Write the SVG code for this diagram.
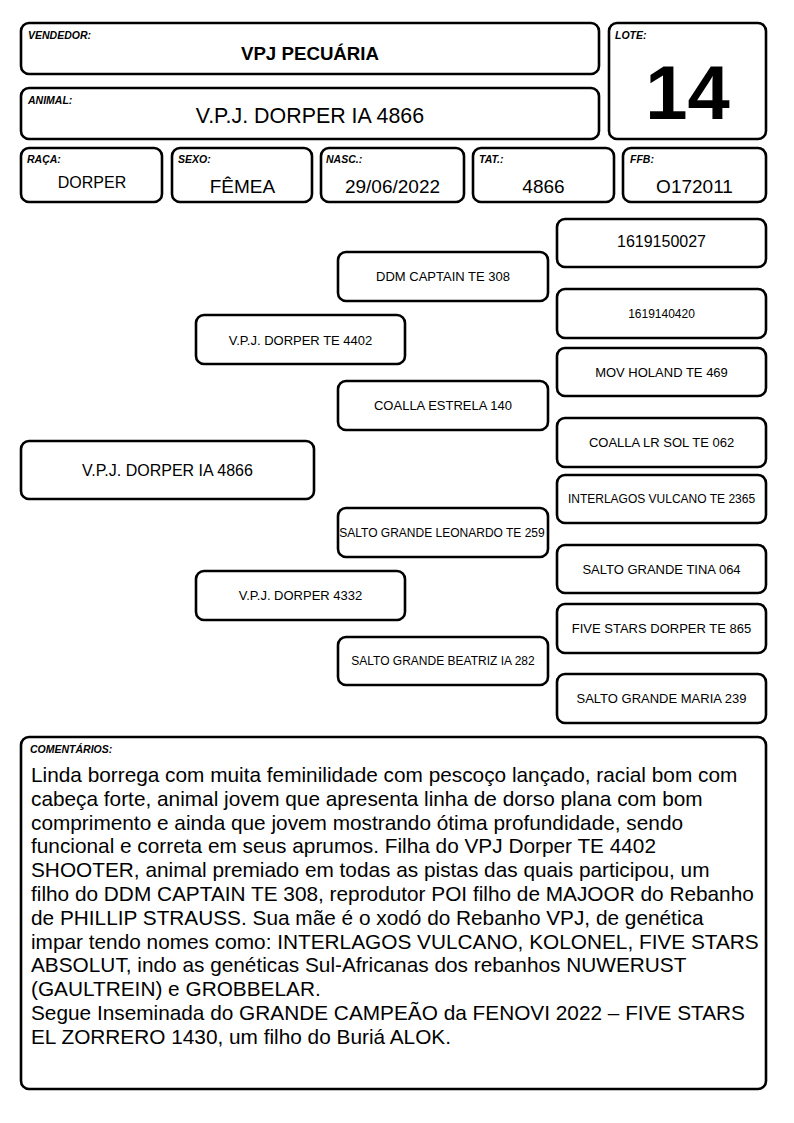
<svg xmlns="http://www.w3.org/2000/svg" width="794" height="1123" viewBox="0 0 794 1123">
<style>
text{font-family:"Liberation Sans",Arial,sans-serif;fill:#000}
.box{fill:#fff;stroke:#000;stroke-width:2.6}
.lbl{font-size:10.5px;font-weight:bold;font-style:italic}
.c{text-anchor:middle}
.v{font-size:19px}
.p13{font-size:13px}
.p12{font-size:12px}
.cm{font-size:20.8px}
</style>
<rect width="794" height="1123" fill="#fff"/>
<g id="connectors"/>
<g id="vendedor">
<rect class="box" x="21" y="23" width="578" height="51" rx="8"/>
<text class="lbl" x="28" y="38.5">VENDEDOR:</text>
<text class="c" x="310" y="60" style="font-size:18.7px;font-weight:bold">VPJ PECUÁRIA</text>
</g>
<g id="animal">
<rect class="box" x="21" y="88" width="578" height="51" rx="8"/>
<text class="lbl" x="28" y="103.5">ANIMAL:</text>
<text class="c" x="310" y="123" style="font-size:21.4px">V.P.J. DORPER IA 4866</text>
</g>
<g id="lote">
<rect class="box" x="609" y="23" width="157" height="116" rx="8"/>
<text class="lbl" x="615" y="38.5">LOTE:</text>
<text class="c" x="687.5" y="119" style="font-size:76px;font-weight:bold">14</text>
</g>
<g id="raca">
<rect class="box" x="21" y="148" width="141" height="54" rx="8"/>
<text class="lbl" x="27" y="163">RAÇA:</text>
<text class="c" x="92" y="188" style="font-size:16px">DORPER</text>
</g>
<g id="sexo">
<rect class="box" x="172" y="148" width="140" height="54" rx="8"/>
<text class="lbl" x="178" y="163">SEXO:</text>
<text class="c v" x="242.5" y="193">FÊMEA</text>
</g>
<g id="nasc">
<rect class="box" x="321" y="148" width="143" height="54" rx="8"/>
<text class="lbl" x="326" y="163">NASC.:</text>
<text class="c v" x="392.5" y="193">29/06/2022</text>
</g>
<g id="tat">
<rect class="box" x="473" y="148" width="141" height="54" rx="8"/>
<text class="lbl" x="479" y="163">TAT.:</text>
<text class="c v" x="543.5" y="193">4866</text>
</g>
<g id="ffb">
<rect class="box" x="623" y="148" width="143" height="54" rx="8"/>
<text class="lbl" x="630" y="163">FFB:</text>
<text class="c v" x="694.5" y="193">O172011</text>
</g>
<g id="n-1619150027">
<rect class="box" x="557" y="219" width="209" height="48" rx="8"/>
<text class="c" x="661.5" y="247" style="font-size:16px">1619150027</text>
</g>
<g id="n-ddm-captain">
<rect class="box" x="338" y="252" width="210" height="49" rx="8"/>
<text class="c p13" x="443" y="281">DDM CAPTAIN TE 308</text>
</g>
<g id="n-1619140420">
<rect class="box" x="557" y="289" width="209" height="49" rx="8"/>
<text class="c p12" x="661.5" y="318">1619140420</text>
</g>
<g id="n-vpj-te-4402">
<rect class="box" x="196" y="315" width="209" height="49" rx="8"/>
<text class="c p13" x="300.5" y="344.5">V.P.J. DORPER TE 4402</text>
</g>
<g id="n-mov-holand">
<rect class="box" x="557" y="348" width="209" height="48" rx="8"/>
<text class="c p13" x="661.5" y="376.7">MOV HOLAND TE 469</text>
</g>
<g id="n-coalla-estrela">
<rect class="box" x="338" y="381" width="210" height="49" rx="8"/>
<text class="c p13" x="443" y="410.2">COALLA ESTRELA 140</text>
</g>
<g id="n-coalla-lr-sol">
<rect class="box" x="557" y="418" width="209" height="49" rx="8"/>
<text class="c p13" x="661.5" y="447.2">COALLA LR SOL TE 062</text>
</g>
<g id="n-vpj-ia-4866">
<rect class="box" x="21" y="441" width="293" height="58" rx="8"/>
<text class="c" x="167.5" y="475.8" style="font-size:16px">V.P.J. DORPER IA 4866</text>
</g>
<g id="n-interlagos">
<rect class="box" x="557" y="475" width="209" height="48" rx="8"/>
<text class="c p12" x="661.5" y="503.3">INTERLAGOS VULCANO TE 2365</text>
</g>
<g id="n-leonardo">
<rect class="box" x="338" y="508" width="210" height="49" rx="8"/>
<text class="c p12" x="442" y="536.8">SALTO GRANDE LEONARDO TE 259</text>
</g>
<g id="n-tina">
<rect class="box" x="557" y="545" width="209" height="48" rx="8"/>
<text class="c p13" x="661.5" y="573.7">SALTO GRANDE TINA 064</text>
</g>
<g id="n-vpj-4332">
<rect class="box" x="196" y="571" width="209" height="49" rx="8"/>
<text class="c p13" x="300.5" y="600.2">V.P.J. DORPER 4332</text>
</g>
<g id="n-five-stars">
<rect class="box" x="557" y="604" width="209" height="49" rx="8"/>
<text class="c p13" x="661.5" y="633.2">FIVE STARS DORPER TE 865</text>
</g>
<g id="n-beatriz">
<rect class="box" x="338" y="637" width="210" height="48" rx="8"/>
<text class="c p12" x="443" y="665.3">SALTO GRANDE BEATRIZ IA 282</text>
</g>
<g id="n-maria">
<rect class="box" x="557" y="674" width="209" height="49" rx="8"/>
<text class="c p13" x="661.5" y="703.2">SALTO GRANDE MARIA 239</text>
</g>
<g id="comentarios">
<rect class="box" x="21" y="737" width="745" height="352" rx="8"/>
<text class="lbl" x="30" y="752.5">COMENTÁRIOS:</text>
<text class="cm" x="31">
<tspan x="31" y="782">Linda borrega com muita feminilidade com pescoço lançado, racial bom com</tspan>
<tspan x="31" y="805.8">cabeça forte, animal jovem que apresenta linha de dorso plana com bom</tspan>
<tspan x="31" y="829.6">comprimento e ainda que jovem mostrando ótima profundidade, sendo</tspan>
<tspan x="31" y="853.4">funcional e correta em seus aprumos. Filha do VPJ Dorper TE 4402</tspan>
<tspan x="31" y="877.2">SHOOTER, animal premiado em todas as pistas das quais participou, um</tspan>
<tspan x="31" y="901">filho do DDM CAPTAIN TE 308, reprodutor POI filho de MAJOOR do Rebanho</tspan>
<tspan x="31" y="924.8">de PHILLIP STRAUSS. Sua mãe é o xodó do Rebanho VPJ, de genética</tspan>
<tspan x="31" y="948.6">impar tendo nomes como: INTERLAGOS VULCANO, KOLONEL, FIVE STARS</tspan>
<tspan x="31" y="972.4">ABSOLUT, indo as genéticas Sul-Africanas dos rebanhos NUWERUST</tspan>
<tspan x="31" y="996.2">(GAULTREIN) e GROBBELAR.</tspan>
<tspan x="31" y="1020">Segue Inseminada do GRANDE CAMPEÃO da FENOVI 2022 – FIVE STARS</tspan>
<tspan x="31" y="1043.8">EL ZORRERO 1430, um filho do Buriá ALOK.</tspan>
</text>
</g>
</svg>
